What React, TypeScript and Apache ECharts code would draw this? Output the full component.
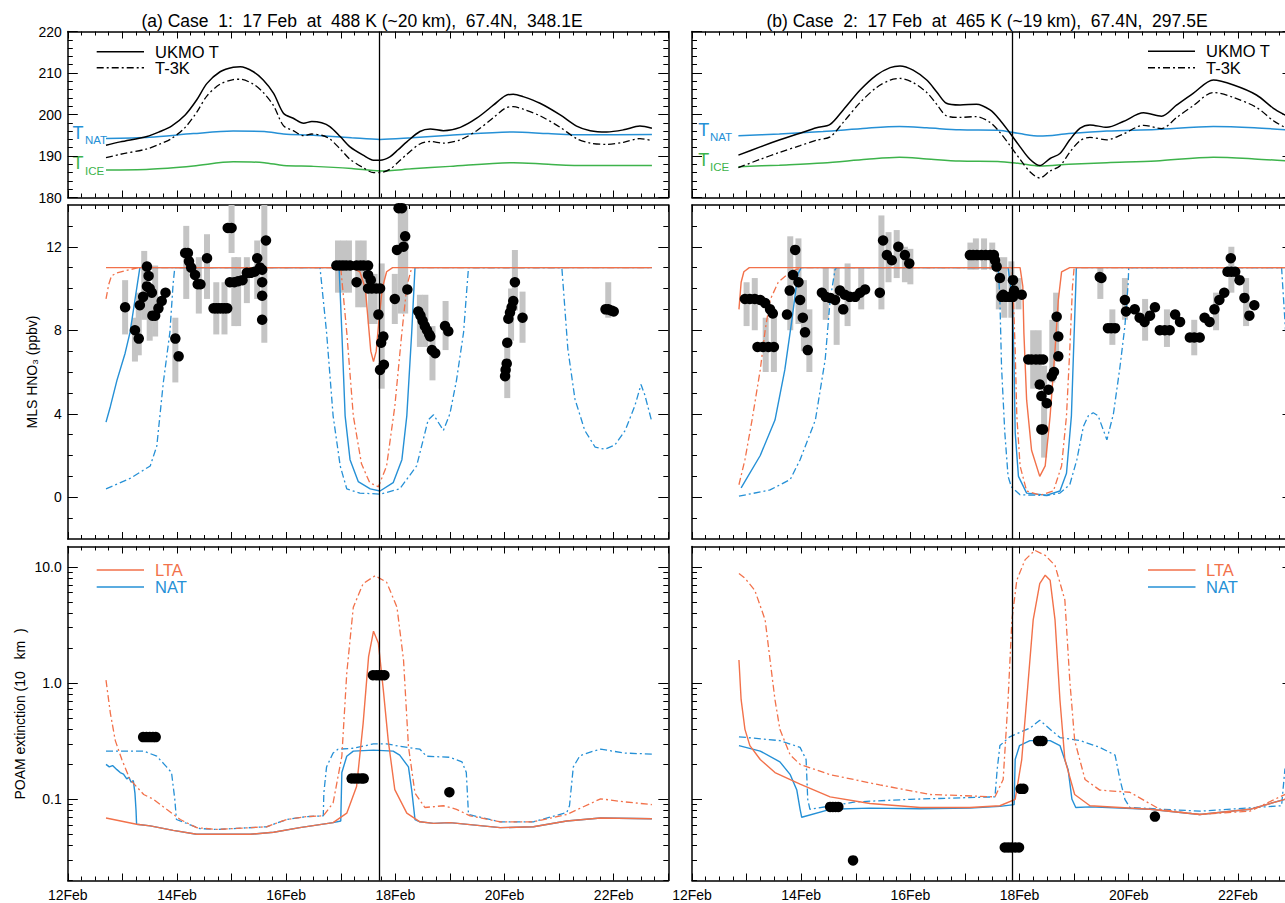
import React, { useEffect, useRef } from "react";
import * as echarts from "echarts";

type P = [number, number];
type E = [number, number, number];

const FONT = "'Liberation Sans', Arial, Helvetica, sans-serif";
const BLUE = "#2590d6";
const ORANGE = "#f2714a";
const GREEN = "#3db34b";
const GRAY = "#c4c4c4";

const TITLE_A = "(a) Case  1:  17 Feb  at  488 K (~20 km),  67.4N,  348.1E";
const TITLE_B = "(b) Case  2:  17 Feb  at  465 K (~19 km),  67.4N,  297.5E";
const VLINE_A = 17.71;
const VLINE_B = 17.86;

const T_TICKS = [180, 190, 200, 210, 220];
const HNO3_LABELS = [0, 4, 8, 12];
const HNO3_MINOR = [-1, 1, 2, 3, 5, 6, 7, 9, 10, 11, 13];
const EXT_LABELS = [0.1, 1, 10];
const EXT_MINOR = [0.02, 0.03, 0.04, 0.05, 0.06, 0.07, 0.08, 0.09, 0.2, 0.3, 0.4, 0.5, 0.6, 0.7, 0.8, 0.9, 2, 3, 4, 5, 6, 7, 8, 9];

// ---------------- Case 1 : temperatures ----------------
const ukmoA: P[] = [[12.70,192.6],[12.96,193.4],[13.45,194.7],[13.69,195.9],[13.90,197.2],[14.15,199.9],[14.36,203.5],[14.55,207.5],[14.79,210.3],[15.03,211.4],[15.16,211.5],[15.40,210.3],[15.58,208.3],[15.77,205.1],[15.95,200.3],[16.13,199.1],[16.32,197.9],[16.47,198.3],[16.65,198.0],[16.80,197.1],[16.99,194.7],[17.17,192.2],[17.41,190.2],[17.60,189.0],[17.72,189.0],[17.90,189.8],[18.05,191.5],[18.21,193.4],[18.45,195.9],[18.64,196.5],[18.88,196.1],[19.19,196.9],[19.49,199.1],[19.80,202.3],[20.01,204.5],[20.16,204.9],[20.34,204.3],[20.65,202.7],[21.02,199.9],[21.32,197.2],[21.57,196.1],[21.87,195.8],[22.18,196.3],[22.48,197.2],[22.70,196.7]];
const t3kA: P[] = [[12.70,189.6],[12.96,190.4],[13.45,191.7],[13.69,192.9],[13.90,194.2],[14.15,196.9],[14.36,200.5],[14.55,204.5],[14.79,207.3],[15.03,208.4],[15.16,208.5],[15.40,207.3],[15.58,205.3],[15.77,202.1],[15.95,197.3],[16.13,196.1],[16.32,194.9],[16.47,195.3],[16.65,195.0],[16.80,194.1],[16.99,191.7],[17.17,189.2],[17.41,187.2],[17.60,186.0],[17.72,186.0],[17.90,186.8],[18.05,188.5],[18.21,190.4],[18.45,192.9],[18.64,193.5],[18.88,193.1],[19.19,193.9],[19.49,196.1],[19.80,199.3],[20.01,201.5],[20.16,201.9],[20.34,201.3],[20.65,199.7],[21.02,196.9],[21.32,194.2],[21.57,193.1],[21.87,192.8],[22.18,193.3],[22.48,194.2],[22.70,193.7]];
const tnatA: P[] = [[12.70,194.2],[13.5,194.5],[14.3,195.4],[15.03,196.0],[15.6,195.9],[15.95,195.3],[16.5,195.0],[17.2,194.4],[17.72,194.0],[18.3,194.4],[19.0,195.0],[20.16,195.8],[20.8,195.4],[21.5,195.1],[22.70,195.2]];
const ticeA: P[] = [[12.70,186.6],[13.5,186.8],[14.3,187.6],[15.03,188.6],[15.6,188.4],[15.95,187.7],[16.5,187.5],[17.2,187.0],[17.72,186.4],[18.3,186.9],[19.0,187.5],[20.16,188.4],[20.8,188.0],[21.5,187.7],[22.70,187.7]];

// ---------------- Case 2 : temperatures ----------------
const ukmoB: P[] = [[12.85,190.2],[13.25,192.2],[13.61,193.9],[13.98,195.5],[14.28,196.8],[14.53,197.6],[14.77,201.1],[15.08,205.9],[15.38,209.5],[15.63,211.3],[15.81,211.7],[16.05,210.7],[16.30,208.3],[16.48,205.5],[16.66,202.7],[16.91,202.3],[17.21,202.5],[17.46,201.1],[17.64,198.7],[17.82,195.6],[18.01,192.2],[18.19,189.2],[18.37,187.7],[18.56,189.4],[18.74,190.6],[18.92,193.9],[19.11,196.7],[19.29,197.5],[19.60,196.9],[19.90,198.3],[20.27,200.4],[20.60,199.6],[20.88,202.3],[21.18,205.1],[21.55,208.3],[21.92,207.1],[22.34,204.7],[22.65,201.5],[22.86,199.9],[23.0,199.0]];
const t3kB: P[] = [[12.85,187.2],[13.25,189.2],[13.61,190.9],[13.98,192.5],[14.28,193.8],[14.53,194.6],[14.77,198.1],[15.08,202.9],[15.38,206.5],[15.63,208.3],[15.81,208.7],[16.05,207.7],[16.30,205.3],[16.48,202.5],[16.66,199.7],[16.91,199.3],[17.21,199.5],[17.46,198.1],[17.64,195.7],[17.82,192.6],[18.01,189.2],[18.19,186.2],[18.37,184.7],[18.56,186.4],[18.74,187.6],[18.92,190.9],[19.11,193.7],[19.29,194.5],[19.60,193.9],[19.90,195.3],[20.27,197.4],[20.60,196.6],[20.88,199.3],[21.18,202.1],[21.55,205.3],[21.92,204.1],[22.34,201.7],[22.65,198.5],[22.86,196.9],[23.0,196.0]];
const tnatB: P[] = [[12.85,194.9],[13.6,195.3],[14.4,195.9],[15.2,196.7],[15.8,197.1],[16.3,196.8],[16.9,196.3],[17.6,196.2],[18.0,195.4],[18.37,194.8],[18.9,195.4],[19.6,196.0],[20.5,196.4],[21.55,197.1],[22.3,196.8],[23.0,196.2]];
const ticeB: P[] = [[12.85,187.4],[13.6,187.8],[14.4,188.3],[15.2,189.2],[15.8,189.7],[16.3,189.3],[16.9,188.8],[17.6,188.7],[18.0,188.2],[18.37,187.6],[18.9,188.0],[19.6,188.4],[20.5,188.8],[21.55,189.7],[22.3,189.3],[23.0,188.7]];

// ---------------- Case 1 : HNO3 ----------------
const ltaHA: P[] = [[12.70,11],[17.20,11],[17.35,10.8],[17.45,10.0],[17.50,8.5],[17.55,7.0],[17.60,6.5],[17.65,7.0],[17.70,8.5],[17.76,10.0],[17.84,10.8],[17.95,11],[22.70,11]];
const lta3HA: P[] = [[12.70,9.5],[12.75,10.2],[12.80,10.6],[12.90,10.75],[13.13,10.9],[13.30,11],[17.00,11],[17.11,7.9],[17.23,3.9],[17.38,1.6],[17.53,0.7],[17.69,0.5],[17.84,1.5],[17.99,4.35],[18.12,7.9],[18.21,10.1],[18.30,11],[22.70,11]];
const natHA: P[] = [[12.70,3.6],[12.78,4.35],[12.90,5.6],[13.05,6.9],[13.14,7.9],[13.23,9.45],[13.32,11],[16.97,11],[17.02,7.9],[17.08,3.9],[17.17,1.8],[17.32,0.75],[17.54,0.4],[17.72,0.3],[17.96,0.7],[18.12,1.8],[18.21,3.9],[18.30,7.9],[18.36,11],[22.70,11]];
const nat3HA: P[] = [[12.70,0.4],[13.14,0.9],[13.51,1.5],[13.63,2.45],[13.75,5.5],[13.87,7.9],[13.93,10.25],[13.96,11],[16.62,11],[16.74,7.9],[16.86,3.9],[16.99,1.5],[17.11,0.4],[17.35,0.2],[17.72,0.15],[18.08,0.4],[18.39,1.5],[18.51,2.75],[18.60,3.7],[18.70,3.95],[18.88,3.2],[19.00,4.0],[19.12,5.6],[19.25,7.9],[19.31,10.0],[19.34,11],[21.05,11],[21.16,7.1],[21.29,4.7],[21.47,3.2],[21.66,2.4],[21.84,2.3],[22.02,2.5],[22.21,3.2],[22.39,4.4],[22.50,5.4],[22.57,4.9],[22.70,3.6]];
const mlsA: P[] = [[13.05,9.1],[13.23,8.0],[13.30,7.6],[13.32,9.2],[13.38,9.6],[13.45,10.1],[13.48,10.6],[13.45,11.05],[13.50,10.0],[13.54,9.8],[13.55,8.7],[13.60,8.7],[13.66,9.05],[13.72,9.4],[13.79,9.8],[13.97,7.6],[14.03,6.75],[14.15,11.7],[14.20,11.7],[14.22,11.3],[14.26,11.0],[14.33,10.65],[14.38,10.2],[14.43,10.2],[14.55,11.45],[14.67,9.05],[14.72,9.05],[14.77,9.05],[14.82,9.05],[14.87,9.05],[14.92,9.05],[14.93,12.9],[15.0,12.9],[14.97,10.3],[15.05,10.3],[15.12,10.35],[15.2,10.4],[15.28,10.75],[15.35,10.75],[15.42,10.8],[15.47,11.45],[15.52,11.0],[15.56,10.9],[15.56,10.3],[15.56,9.65],[15.56,8.5],[15.63,12.3],[16.92,11.1],[16.98,11.1],[17.04,11.1],[17.10,11.1],[17.17,11.1],[17.29,10.3],[17.29,11.1],[17.36,11.1],[17.42,11.1],[17.50,11.1],[17.50,10.65],[17.55,10.4],[17.50,10.0],[17.57,10.0],[17.65,10.0],[17.72,10.0],[17.69,8.75],[17.78,7.7],[17.74,7.4],[17.79,6.35],[17.72,6.1],[17.99,9.5],[18.06,13.85],[18.12,13.85],[18.18,12.5],[18.15,12.0],[18.03,11.85],[18.22,9.95],[18.42,8.9],[18.46,8.7],[18.50,8.45],[18.54,8.2],[18.58,8.0],[18.62,7.8],[18.64,7.7],[18.67,7.05],[18.73,6.9],[18.91,8.2],[18.97,7.95],[20.01,5.8],[20.02,6.1],[20.04,6.4],[20.05,7.4],[20.07,8.55],[20.10,8.85],[20.13,9.1],[20.16,9.4],[20.19,10.3],[20.33,8.6],[21.85,9.0],[21.90,9.0],[21.95,8.95],[22.0,8.9]];
const mlsErrA: E[] = [[13.05,7.8,10.4],[13.23,6.5,8.6],[13.30,6.8,9.8],[13.40,8.5,11.8],[13.50,7.5,10.2],[13.60,7.7,11.1],[13.97,5.5,8.6],[14.17,9.5,13.0],[14.40,8.8,11.5],[14.55,9.5,12.6],[14.72,7.8,10.3],[14.87,7.8,10.3],[15.0,11.7,14.0],[15.05,8.2,11.5],[15.12,8.2,11.5],[15.28,9.3,11.5],[15.47,9.5,12.3],[15.60,7.4,14.0],[16.95,9.8,12.3],[17.05,9.8,12.3],[17.15,9.8,12.3],[17.32,9.1,12.3],[17.42,9.1,12.3],[17.55,8.3,10.7],[17.62,8.3,10.7],[17.75,5.2,11.2],[17.99,8.3,10.7],[18.10,8.8,14.0],[18.18,8.8,14.0],[18.45,7.2,9.7],[18.55,7.2,9.7],[18.68,5.6,8.2],[18.92,7.05,9.4],[20.05,4.75,7.55],[20.12,7.5,10.0],[20.19,8.95,11.85],[20.33,7.4,9.85],[21.90,8.6,10.3]];

// ---------------- Case 2 : HNO3 ----------------
const ltaHB: P[] = [[12.86,9.0],[12.90,10.3],[12.95,10.8],[13.05,11],[18.01,11],[18.06,10.1],[18.08,7.85],[18.13,4.65],[18.22,2.25],[18.37,1.0],[18.47,1.5],[18.56,3.9],[18.65,7.05],[18.71,9.45],[18.77,10.8],[18.92,11],[23.0,11]];
const lta3HB: P[] = [[12.86,0.6],[12.97,1.8],[13.10,3.7],[13.25,6.1],[13.34,8.0],[13.43,9.45],[13.58,10.3],[13.80,10.8],[14.0,11],[17.86,11],[17.88,10.1],[17.92,7.05],[17.95,3.9],[18.01,1.5],[18.13,0.3],[18.38,0.1],[18.62,0.3],[18.77,1.5],[18.86,3.9],[18.92,7.05],[18.97,10.1],[19.0,11],[23.0,11]];
const natHB: P[] = [[12.90,0.45],[13.25,2.0],[13.52,3.7],[13.70,6.1],[13.83,8.5],[13.94,10.7],[14.0,11],[17.79,11],[17.87,9.45],[17.90,6.25],[17.92,3.1],[17.98,1.0],[18.13,0.2],[18.50,0.1],[18.74,0.3],[18.86,1.15],[18.95,3.9],[18.99,7.05],[19.03,10.1],[19.04,11],[23.0,11]];
const nat3HB: P[] = [[12.86,0.05],[13.43,0.35],[13.80,0.85],[13.98,1.8],[14.26,3.7],[14.44,6.6],[14.53,9.45],[14.62,10.9],[14.65,11],[17.61,11],[17.64,9.45],[17.67,6.25],[17.73,3.1],[17.79,1.0],[17.85,0.5],[18.01,0.12],[18.50,0.08],[18.74,0.2],[18.92,0.6],[19.05,1.8],[19.17,3.4],[19.26,3.9],[19.35,4.05],[19.44,3.9],[19.60,2.75],[19.72,4.0],[19.84,6.25],[19.93,8.2],[19.99,10.25],[20.0,11],[22.80,11],[22.86,8.5],[22.92,6.0]];
const mlsB: P[] = [[12.97,9.5],[13.06,9.5],[13.15,9.5],[13.25,9.45],[13.34,9.3],[13.43,9.0],[13.48,8.8],[13.20,7.2],[13.30,7.2],[13.40,7.2],[13.50,7.2],[13.74,8.75],[13.79,9.9],[13.85,10.65],[13.89,11.85],[13.95,10.3],[13.98,9.45],[14.03,8.6],[14.07,7.9],[14.12,7.05],[14.38,9.8],[14.45,9.6],[14.53,9.55],[14.62,9.45],[14.71,9.9],[14.77,9.0],[14.80,9.7],[14.89,9.6],[14.99,9.6],[15.08,9.8],[15.17,9.95],[15.44,9.8],[15.50,12.3],[15.57,11.6],[15.66,11.35],[15.78,12.0],[15.90,11.6],[15.98,11.2],[17.09,11.6],[17.15,11.6],[17.22,11.6],[17.30,11.6],[17.38,11.6],[17.46,11.6],[17.53,11.6],[17.55,11.35],[17.58,11.05],[17.64,10.5],[17.70,9.7],[17.67,9.6],[17.75,9.6],[17.82,9.6],[17.88,9.6],[17.88,10.4],[17.90,9.9],[18.04,9.7],[18.16,6.6],[18.22,6.6],[18.30,6.6],[18.37,6.6],[18.43,6.6],[18.37,5.4],[18.40,4.85],[18.50,4.5],[18.53,5.15],[18.43,3.25],[18.40,3.25],[18.59,5.8],[18.63,6.0],[18.71,6.75],[18.71,7.7],[18.68,8.65],[19.47,10.55],[19.50,10.5],[19.62,8.1],[19.68,8.1],[19.75,8.1],[19.93,9.45],[19.95,8.9],[20.11,9.0],[20.20,8.6],[20.29,8.4],[20.39,8.7],[20.48,9.1],[20.57,8.0],[20.66,8.0],[20.75,8.0],[20.85,8.75],[20.94,8.4],[21.12,7.65],[21.20,7.65],[21.30,7.65],[21.39,8.6],[21.48,8.4],[21.57,9.0],[21.66,9.45],[21.75,9.8],[21.81,10.8],[21.88,10.8],[21.95,10.8],[21.87,11.45],[22.03,10.4],[22.12,9.55],[22.21,8.7],[22.30,9.2]];
const mlsErrB: E[] = [[13.0,8.2,10.3],[13.15,8.0,10.5],[13.35,6.0,8.6],[13.50,6.0,8.8],[13.80,8.0,12.5],[13.95,8.3,12.4],[14.05,7.0,10.4],[14.15,6.0,9.0],[14.45,8.5,11.0],[14.65,7.3,11.0],[14.85,8.2,11.2],[15.10,9.0,11.0],[15.47,9.0,13.5],[15.60,10.3,12.7],[15.75,10.5,12.8],[15.90,10.3,12.0],[16.0,10.2,11.9],[17.10,10.9,12.2],[17.20,10.9,12.4],[17.35,10.9,12.4],[17.50,10.9,12.2],[17.62,9.0,11.5],[17.72,8.6,11.5],[17.85,8.6,11.3],[17.98,9.0,10.5],[18.25,5.2,8.0],[18.35,5.2,8.0],[18.45,1.9,6.3],[18.60,5.5,8.5],[18.67,6.7,9.8],[19.48,9.5,11.0],[19.70,7.3,9.0],[19.93,8.5,10.5],[20.30,7.5,9.5],[20.70,7.2,9.0],[21.20,6.8,8.5],[21.60,8.0,9.8],[21.88,9.8,12.0],[22.15,8.2,10.5]];

// ---------------- Case 1 : POAM extinction ----------------
const ltaEA: P[] = [[12.70,0.069],[13.26,0.061],[13.51,0.059],[13.93,0.054],[14.36,0.050],[15.34,0.050],[15.77,0.052],[16.25,0.057],[16.86,0.063],[17.11,0.076],[17.29,0.129],[17.41,0.45],[17.51,1.69],[17.60,2.8],[17.69,2.2],[17.78,0.87],[17.87,0.32],[17.99,0.121],[18.21,0.076],[18.45,0.064],[18.70,0.062],[19.00,0.063],[19.92,0.057],[20.53,0.058],[21.14,0.065],[21.76,0.069],[22.70,0.068]];
const lta3EA: P[] = [[12.70,1.06],[12.78,0.55],[12.87,0.32],[12.99,0.22],[13.14,0.148],[13.39,0.11],[13.57,0.10],[13.81,0.082],[14.06,0.067],[14.36,0.057],[14.73,0.055],[15.64,0.058],[16.01,0.067],[16.38,0.071],[16.68,0.072],[16.86,0.093],[17.02,0.235],[17.11,1.22],[17.23,4.5],[17.41,7.2],[17.63,8.4],[17.84,7.4],[18.03,4.5],[18.15,1.58],[18.24,0.285],[18.36,0.113],[18.54,0.085],[18.88,0.088],[19.12,0.082],[19.37,0.072],[19.92,0.064],[20.53,0.064],[21.14,0.074],[21.76,0.101],[22.20,0.095],[22.70,0.09]];
const natEA: P[] = [[12.70,0.20],[12.76,0.19],[12.82,0.195],[12.90,0.18],[12.96,0.17],[13.02,0.165],[13.08,0.15],[13.12,0.155],[13.16,0.14],[13.20,0.145],[13.23,0.113],[13.25,0.08],[13.26,0.061],[13.51,0.059],[13.93,0.054],[14.36,0.050],[15.34,0.050],[15.77,0.052],[16.25,0.057],[16.86,0.063],[17.0,0.065],[17.02,0.17],[17.11,0.235],[17.23,0.26],[17.60,0.265],[17.96,0.26],[18.08,0.24],[18.24,0.19],[18.30,0.12],[18.36,0.067],[18.45,0.064],[18.70,0.062],[19.00,0.063],[19.92,0.057],[20.53,0.058],[21.14,0.065],[21.76,0.069],[22.70,0.068]];
const nat3EA: P[] = [[12.70,0.26],[13.39,0.26],[13.63,0.235],[13.81,0.19],[13.90,0.17],[13.96,0.10],[13.99,0.067],[14.42,0.056],[14.73,0.055],[15.64,0.058],[16.01,0.067],[16.38,0.071],[16.68,0.072],[16.69,0.113],[16.74,0.19],[16.86,0.25],[16.95,0.27],[17.23,0.275],[17.60,0.30],[17.84,0.30],[18.08,0.286],[18.45,0.27],[18.57,0.235],[19.00,0.23],[19.22,0.21],[19.30,0.17],[19.34,0.074],[19.92,0.064],[20.53,0.064],[21.14,0.077],[21.19,0.088],[21.26,0.19],[21.38,0.237],[21.63,0.26],[21.76,0.27],[22.20,0.25],[22.70,0.245]];
const poamA: P[] = [[13.38,0.343],[13.44,0.343],[13.50,0.343],[13.56,0.343],[13.61,0.343],[17.20,0.151],[17.26,0.151],[17.32,0.151],[17.38,0.151],[17.42,0.151],[17.59,1.17],[17.65,1.17],[17.70,1.17],[17.75,1.17],[17.80,1.17],[18.99,0.115]];

// ---------------- Case 2 : POAM extinction ----------------
const ltaEB: P[] = [[12.86,1.58],[12.90,0.72],[12.97,0.40],[13.06,0.29],[13.25,0.22],[13.52,0.17],[13.98,0.135],[14.53,0.105],[15.26,0.092],[16.18,0.085],[17.09,0.085],[17.64,0.088],[17.92,0.10],[18.04,0.22],[18.15,0.93],[18.25,3.5],[18.37,7.2],[18.47,8.5],[18.56,7.7],[18.65,3.5],[18.74,0.72],[18.83,0.22],[19.01,0.11],[19.29,0.088],[20.39,0.082],[21.30,0.074],[22.22,0.082],[22.86,0.10],[23.0,0.10]];
const lta3EB: P[] = [[12.86,8.8],[12.97,8.0],[13.15,6.3],[13.34,3.5],[13.43,1.58],[13.52,0.72],[13.61,0.40],[13.80,0.24],[13.98,0.20],[14.53,0.163],[15.44,0.133],[16.36,0.11],[17.55,0.105],[17.70,0.148],[17.79,0.72],[17.86,3.5],[17.95,7.7],[18.10,11.5],[18.28,13.9],[18.47,12.6],[18.65,10.3],[18.83,5.2],[18.92,1.06],[19.01,0.32],[19.20,0.148],[19.47,0.12],[20.02,0.115],[20.57,0.082],[21.30,0.074],[22.22,0.079],[22.86,0.11],[23.0,0.11]];
const natEB: P[] = [[12.86,0.29],[13.25,0.26],[13.61,0.21],[13.80,0.163],[13.92,0.12],[13.98,0.082],[14.01,0.07],[14.53,0.082],[15.26,0.084],[16.18,0.083],[17.09,0.084],[17.64,0.087],[17.90,0.09],[17.92,0.22],[18.0,0.29],[18.19,0.32],[18.56,0.32],[18.74,0.29],[18.89,0.18],[18.96,0.10],[19.03,0.085],[19.29,0.086],[20.39,0.082],[21.30,0.074],[22.22,0.082],[22.86,0.10],[23.0,0.10]];
const nat3EB: P[] = [[12.86,0.345],[13.61,0.32],[13.98,0.28],[14.09,0.22],[14.12,0.10],[14.16,0.082],[15.0,0.095],[16.0,0.10],[17.55,0.105],[17.59,0.18],[17.64,0.29],[17.82,0.345],[18.19,0.41],[18.37,0.48],[18.56,0.40],[18.74,0.34],[19.11,0.32],[19.47,0.28],[19.75,0.24],[19.84,0.148],[19.93,0.10],[20.02,0.085],[21.30,0.079],[22.80,0.088],[22.86,0.18],[23.0,0.25]];
const poamB: P[] = [[14.53,0.086],[14.58,0.086],[14.63,0.086],[14.68,0.086],[14.95,0.0298],[17.73,0.0385],[17.79,0.0385],[17.85,0.0385],[17.92,0.0385],[17.99,0.0385],[18.02,0.123],[18.07,0.123],[18.34,0.318],[18.38,0.318],[18.42,0.318],[20.48,0.071]];

// ---------------- layout ----------------
const LX = 67.8;
const RX = 692;
const PW = 600.5;
const ROWS = [
  { top: 31.5, height: 166 },
  { top: 205, height: 334 },
  { top: 546.5, height: 334 },
];

const DASHDOT = [7, 3, 2, 3];
const labelStyle = { color: "#000", fontSize: 14, fontFamily: FONT };

function mkX(g: number, pos: string, labels: boolean) {
  return {
    type: "value",
    gridIndex: g,
    position: pos,
    min: 12,
    max: 23,
    interval: 1,
    axisLine: { show: true, onZero: false, lineStyle: { color: "#000", width: 1.5 } },
    axisTick: { show: true, inside: true, length: 7, lineStyle: { color: "#000", width: 1 } },
    minorTick: { show: true, splitNumber: 4, length: 4, lineStyle: { color: "#000", width: 1 } },
    splitLine: { show: false },
    minorSplitLine: { show: false },
    axisLabel: {
      show: labels,
      ...labelStyle,
      margin: 7,
      formatter: (v: number) => (Math.round(v) % 2 === 0 && v < 23 ? `${Math.round(v)}Feb` : ""),
    },
  };
}

function mkY(g: number, kind: string, labels: boolean) {
  const line = { show: true, onZero: false, lineStyle: { color: "#000", width: 1.5 } };
  const base: any = { gridIndex: g, splitLine: { show: false }, minorSplitLine: { show: false } };
  const out: any[] = [];
  if (kind === "T") {
    const c = {
      ...base, type: "value", min: 180, max: 220, interval: 10,
      axisLine: line,
      axisTick: { show: true, inside: true, length: 10, lineStyle: { color: "#000" } },
      minorTick: { show: true, splitNumber: 5, length: 5, lineStyle: { color: "#000" } },
    };
    out.push({ ...c, position: "left", axisLabel: { show: labels, ...labelStyle, margin: 6, customValues: T_TICKS } });
    out.push({ ...c, position: "right", axisLabel: { show: false } });
    return out;
  }
  const range = kind === "H" ? { type: "value", min: -2, max: 14 } : { type: "log", logBase: 10, min: 0.02, max: 15 };
  const majors = kind === "H" ? HNO3_LABELS : EXT_LABELS;
  const minors = kind === "H" ? HNO3_MINOR : EXT_MINOR;
  const fmt = kind === "H" ? (v: number) => `${Math.round(v)}` : (v: number) => Number(v).toFixed(1);
  for (const pos of ["left", "right"]) {
    out.push({
      ...base, ...range, position: pos,
      axisLine: line,
      axisTick: { show: true, inside: true, length: 10, customValues: majors, lineStyle: { color: "#000" } },
      axisLabel: { show: labels && pos === "left", ...labelStyle, margin: 6, customValues: majors, formatter: fmt },
    });
    out.push({
      ...base, ...range, position: pos,
      axisLine: { show: false },
      axisTick: { show: true, inside: true, length: 5, customValues: minors, lineStyle: { color: "#000" } },
      axisLabel: { show: false },
    });
  }
  return out;
}

function buildOption() {
  const grids: any[] = [];
  const xAxes: any[] = [];
  const yAxes: any[] = [];
  const yIdx: number[] = [];
  const kinds = ["T", "H", "E"];
  for (let col = 0; col < 2; col++) {
    for (let r = 0; r < 3; r++) {
      const g = col * 3 + r;
      grids.push({
        left: col === 0 ? LX : RX, top: ROWS[r].top, width: PW, height: ROWS[r].height,
        containLabel: false, outerBoundsMode: "none", show: false,
      });
      xAxes.push(mkX(g, "bottom", r === 2));
      xAxes.push(mkX(g, "top", false));
      yIdx.push(yAxes.length);
      yAxes.push(...mkY(g, kinds[r], col === 0));
    }
  }

  const series: any[] = [];
  const vline = (x: number) => ({
    silent: true, symbol: ["none", "none"], label: { show: false },
    lineStyle: { color: "#000", width: 1.3, type: "solid" },
    data: [{ xAxis: x }],
  });
  const ln = (g: number, data: P[], color: string, dash: boolean, width = 1.4, vl?: number, smooth = 0) => {
    const s: any = {
      type: "line", xAxisIndex: g * 2, yAxisIndex: yIdx[g], data,
      showSymbol: false, symbol: "none", silent: true, clip: true, z: 3, smooth,
      lineStyle: { color, width, type: dash ? DASHDOT : "solid" },
    };
    if (vl !== undefined) s.markLine = vline(vl);
    series.push(s);
  };
  const dots = (g: number, data: P[]) =>
    series.push({
      type: "scatter", xAxisIndex: g * 2, yAxisIndex: yIdx[g], data,
      symbol: "circle", symbolSize: 10.5, itemStyle: { color: "#000", opacity: 1 }, silent: true, clip: true, z: 5,
    });
  const errs = (g: number, data: E[]) =>
    series.push({
      type: "custom", xAxisIndex: g * 2, yAxisIndex: yIdx[g], data, silent: true, clip: true, z: 1,
      encode: { x: 0, y: [1, 2] },
      renderItem: (params: any, api: any) => {
        const top = api.coord([api.value(0), api.value(2)]);
        const bot = api.coord([api.value(0), api.value(1)]);
        return { type: "rect", shape: { x: top[0] - 3, y: top[1], width: 6, height: bot[1] - top[1] }, style: { fill: GRAY } };
      },
    });

  const SM = 0.3;
  // Case 1
  ln(0, tnatA, BLUE, false, 1.5, VLINE_A, SM);
  ln(0, ticeA, GREEN, false, 1.5, undefined, SM);
  ln(0, ukmoA, "#000", false, 1.5, undefined, SM);
  ln(0, t3kA, "#000", true, 1.3, undefined, SM);
  errs(1, mlsErrA);
  ln(1, nat3HA, BLUE, true, 1.3, VLINE_A);
  ln(1, natHA, BLUE, false, 1.4);
  ln(1, lta3HA, ORANGE, true, 1.3);
  ln(1, ltaHA, ORANGE, false, 1.4);
  dots(1, mlsA);
  ln(2, nat3EA, BLUE, true, 1.3, VLINE_A);
  ln(2, natEA, BLUE, false, 1.4);
  ln(2, lta3EA, ORANGE, true, 1.3);
  ln(2, ltaEA, ORANGE, false, 1.4);
  dots(2, poamA);
  // Case 2
  ln(3, tnatB, BLUE, false, 1.5, VLINE_B, SM);
  ln(3, ticeB, GREEN, false, 1.5, undefined, SM);
  ln(3, ukmoB, "#000", false, 1.5, undefined, SM);
  ln(3, t3kB, "#000", true, 1.3, undefined, SM);
  errs(4, mlsErrB);
  ln(4, nat3HB, BLUE, true, 1.3, VLINE_B);
  ln(4, natHB, BLUE, false, 1.4);
  ln(4, lta3HB, ORANGE, true, 1.3);
  ln(4, ltaHB, ORANGE, false, 1.4);
  dots(4, mlsB);
  ln(5, nat3EB, BLUE, true, 1.3, VLINE_B);
  ln(5, natEB, BLUE, false, 1.4);
  ln(5, lta3EB, ORANGE, true, 1.3);
  ln(5, ltaEB, ORANGE, false, 1.4);
  dots(5, poamB);

  const txt = (x: number, y: number, text: string, size: number, color: string, align = "left", extra: any = {}) => ({
    type: "text", x, y, silent: true, ...extra,
    style: { text, fontSize: size, fontFamily: FONT, fill: color, align, textAlign: align, verticalAlign: "middle", textVerticalAlign: "middle" },
  });
  const seg = (x1: number, x2: number, y: number, color: string, dash: boolean) => ({
    type: "line", silent: true,
    shape: { x1, y1: y, x2, y2: y },
    style: { stroke: color, lineWidth: 1.5, lineDash: dash ? DASHDOT : null },
  });

  const graphic: any[] = [
    txt(362, 20.5, TITLE_A, 17.5, "#000", "center"),
    txt(987, 20.5, TITLE_B, 17.5, "#000", "center"),
    seg(96.7, 144, 51.7, "#000", false),
    seg(96.7, 144, 67.7, "#000", true),
    txt(155, 51.7, "UKMO T", 16.5, "#000"),
    txt(155, 67.7, "T-3K", 16.5, "#000"),
    seg(1148, 1195, 51.2, "#000", false),
    seg(1148, 1195, 67.7, "#000", true),
    txt(1206, 51.2, "UKMO T", 16.5, "#000"),
    txt(1206, 67.7, "T-3K", 16.5, "#000"),
    txt(72.5, 132.7, "T", 18, BLUE),
    txt(85, 139.5, "NAT", 11.5, BLUE),
    txt(72.5, 163.3, "T", 18, GREEN),
    txt(85, 170.5, "ICE", 11.5, GREEN),
    txt(698.3, 129.7, "T", 18, BLUE),
    txt(710, 136.5, "NAT", 11.5, BLUE),
    txt(698.3, 160, "T", 18, GREEN),
    txt(710, 167, "ICE", 11.5, GREEN),
    seg(96.7, 144, 570, ORANGE, false),
    seg(96.7, 144, 587, BLUE, false),
    txt(155, 570, "LTA", 16.5, ORANGE),
    txt(155, 587, "NAT", 16.5, BLUE),
    seg(1148, 1195.5, 570, ORANGE, false),
    seg(1148, 1195.5, 587, BLUE, false),
    txt(1206, 570, "LTA", 16.5, ORANGE),
    txt(1206, 587, "NAT", 16.5, BLUE),
    txt(32, 372, "MLS HNO\u2083 (ppbv)", 14, "#000", "center", { rotation: Math.PI / 2 }),
    txt(20, 714, "POAM extinction (10   km  )", 14, "#000", "center", { rotation: Math.PI / 2 }),
  ];

  return {
    animation: false,
    backgroundColor: "#fff",
    textStyle: { fontFamily: FONT },
    grid: grids,
    xAxis: xAxes,
    yAxis: yAxes,
    series,
    graphic,
  };
}

export default function App() {
  const ref = useRef<HTMLDivElement>(null);
  useEffect(() => {
    document.body.style.margin = "0";
    document.body.style.overflow = "hidden";
    const chart = echarts.init(ref.current!, null, { renderer: "svg", width: 1285, height: 903 });
    chart.setOption(buildOption() as any);
    return () => chart.dispose();
  }, []);
  return <div ref={ref} style={{ width: 1285, height: 903 }} />;
}
